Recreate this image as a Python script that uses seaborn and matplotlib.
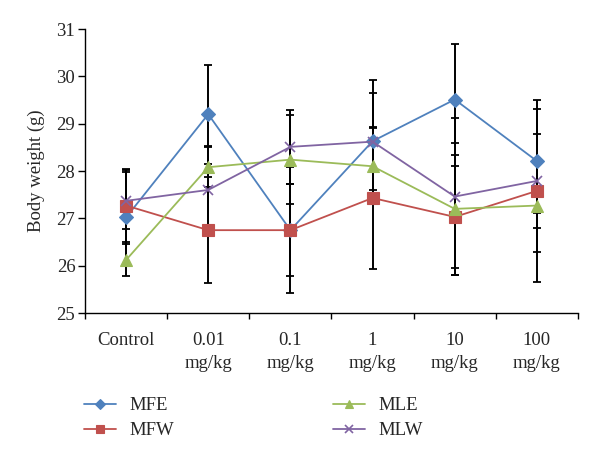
import matplotlib
matplotlib.use('Agg')
import matplotlib.pyplot as plt
from matplotlib.lines import Line2D
import numpy as np
import pandas as pd
import seaborn as sns

# dose groups and series names
doses = ['Control', '0.01\nmg/kg', '0.1\nmg/kg', '1\nmg/kg', '10\nmg/kg', '100\nmg/kg']
series = ['MFE', 'MFW', 'MLE', 'MLW']

# body weight means (g)
mfe = [27.02, 29.20, 26.75, 28.63, 29.51, 28.21]
mfw = [27.27, 26.75, 26.75, 27.43, 27.03, 27.58]
mle = [26.12, 28.08, 28.24, 28.10, 27.20, 27.27]
mlw = [27.37, 27.60, 28.51, 28.62, 27.46, 27.79]

# error bar half widths
mfe_err = [1.00, 1.05, 0.97, 1.30, 1.17, 1.10]
mfw_err = [0.78, 1.12, 1.33, 1.50, 1.08, 1.93]
mle_err = [0.34, 0.42, 0.94, 0.80, 1.40, 0.99]
mlw_err = [0.60, 0.93, 0.78, 1.02, 1.65, 0.99]

colors = {'MFE': '#4F81BD', 'MFW': '#C0504D', 'MLE': '#9BBB59', 'MLW': '#8064A2'}
markers = {'MFE': 'D', 'MFW': 's', 'MLE': '^', 'MLW': 'x'}
msizes = {'MFE': 7, 'MFW': 8, 'MLE': 8.5, 'MLW': 7.5}

values = {'MFE': mfe, 'MFW': mfw, 'MLE': mle, 'MLW': mlw}
errors = {'MFE': mfe_err, 'MFW': mfw_err, 'MLE': mle_err, 'MLW': mlw_err}

rows = []
for s in series:
    for i, v in enumerate(values[s]):
        rows.append({'idx': i, 'weight': v, 'series': s})
df = pd.DataFrame(rows)

sns.set_theme(style='ticks')
plt.rcParams['font.family'] = ['Liberation Serif', 'DejaVu Serif']
fs = 13.5

fig = plt.figure(figsize=(6, 4.58), dpi=100)
ax = fig.add_axes([85 / 600, 1 - 313 / 458, 493 / 600, 284 / 458])

# error bars behind the lines
x = np.arange(len(doses))
for s in series:
    ax.errorbar(x, values[s], yerr=errors[s], fmt='none', ecolor='black',
                elinewidth=1.4, capsize=3.2, capthick=1.3, zorder=2)

handles = []
for s in series:
    mew = 1.2 if s == 'MLW' else 0.8
    sns.lineplot(data=df[df['series'] == s], x='idx', y='weight',
                 color=colors[s], marker=markers[s], markersize=msizes[s],
                 markeredgecolor=colors[s], markeredgewidth=mew,
                 linewidth=1.3, legend=False, ax=ax, zorder=3)
    handles.append(Line2D([], [], color=colors[s], marker=markers[s], lw=1.3,
                          markersize=msizes[s] * 0.75, markeredgecolor=colors[s],
                          markeredgewidth=mew, label=s))

ax.set_xlim(-0.5, len(doses) - 0.5)
ax.set_ylim(25, 31)
ax.set_yticks(range(25, 32))
ax.set_xticks(np.arange(len(doses) + 1) - 0.5)
ax.set_xticklabels([])
ax.set_xticks(x, minor=True)
ax.set_xticklabels(doses, minor=True, fontsize=fs, linespacing=1.4, va='top')
ax.tick_params(axis='x', which='minor', length=0, pad=14)
ax.tick_params(axis='x', which='major', length=4, width=1, color='black')
ax.tick_params(axis='y', length=5, width=1, color='black', labelsize=fs, pad=2)
ax.set_xlabel('')
ax.set_ylabel('Body weight (g)', fontsize=fs, labelpad=8)
for sp in ['top', 'right']:
    ax.spines[sp].set_visible(False)
for sp in ['left', 'bottom']:
    ax.spines[sp].set_color('black')
    ax.spines[sp].set_linewidth(1)

fig.legend(handles=handles, ncol=2, loc='upper left',
           bbox_to_anchor=(84 / 600, 1 - 397 / 458), frameon=False,
           fontsize=fs, handlelength=1.7, handletextpad=0.7,
           columnspacing=8.5, labelspacing=0.42, borderpad=0, borderaxespad=0)

fig.savefig('out.png', dpi=100)
